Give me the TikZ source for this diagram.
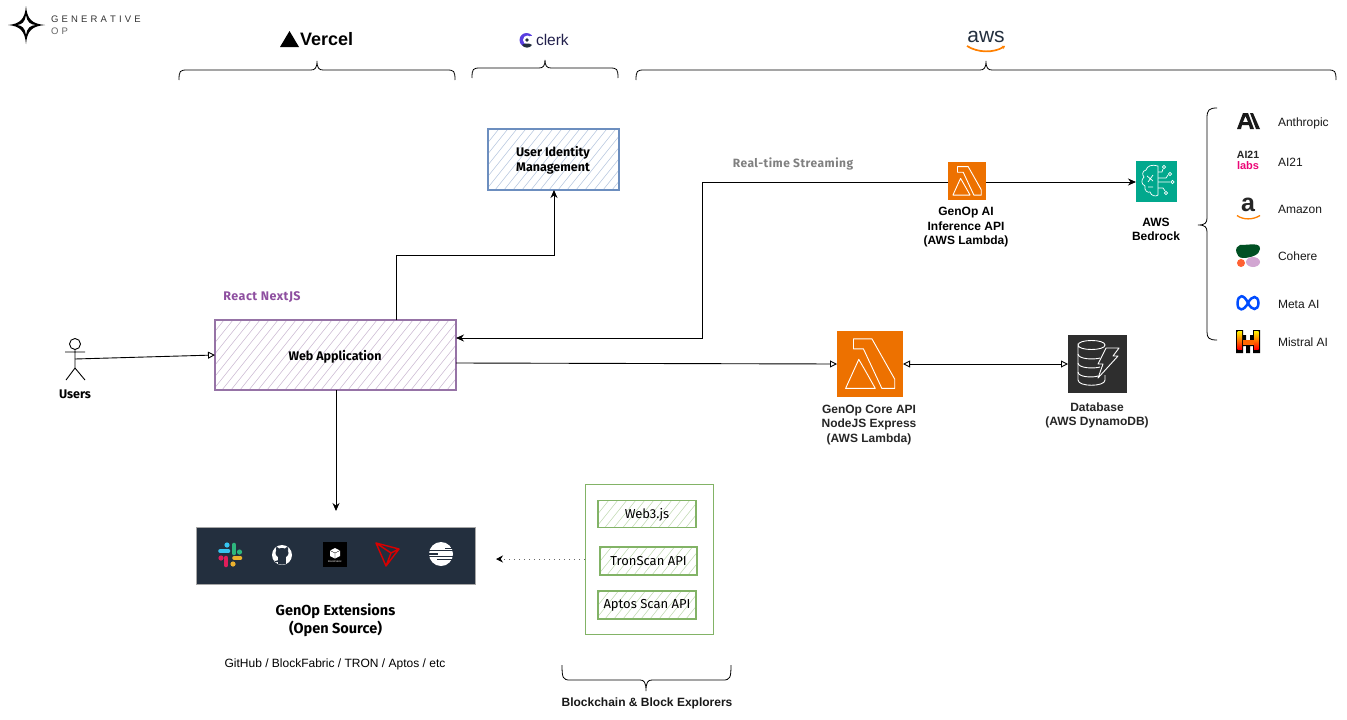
\documentclass[tikz,border=0pt]{standalone}
\usepackage{fontspec}
\setmainfont{Liberation Sans}
\newfontfamily\handfont{Fira Sans}
\newfontfamily\handwide[LetterSpace=4]{Fira Sans}
\usetikzlibrary{arrows.meta,calc}
\definecolor{purp}{HTML}{9673A6}
\definecolor{purptxt}{HTML}{8E4FA0}
\definecolor{blu}{HTML}{6C8EBF}
\definecolor{grn}{HTML}{82B366}
\definecolor{awsorg}{HTML}{ED7100}
\definecolor{teal}{HTML}{01A88D}
\definecolor{ddb}{HTML}{2E2E2E}
\definecolor{navy}{HTML}{232F3E}
\definecolor{slb}{HTML}{36C5F0}
\definecolor{slg}{HTML}{2EB67D}
\definecolor{sly}{HTML}{ECB22E}
\definecolor{slp}{HTML}{E01E5A}
\definecolor{clerkc}{HTML}{5A3FE0}
\tikzset{
  x=1pt,y=-1pt,
  every node/.style={inner sep=0pt,outer sep=0pt},
  hatched/.style={draw=#1,line width=1.7pt,
    path picture={\foreach \i in {-200,-191,...,400}{
      \draw[#1!45,line width=.6pt] ($(path picture bounding box.south west)+(\i,0)$) -- ++(120,-150);}}},
  hand/.style={font=\handfont\bfseries\fontsize{12.5}{15.5}\selectfont,align=center,text=black},
  handlite/.style={font=\handfont\fontsize{13}{15}\selectfont,align=center,text=black},
  helv/.style={font=\bfseries\fontsize{12}{14.5}\selectfont,align=center,text=black},
  prov/.style={font=\fontsize{12}{14}\selectfont,anchor=west,text=black!90},
  conn/.style={draw=black,line width=.9pt,-{Stealth[length=8pt,width=7pt]}},
  openconn/.style={draw=black,line width=.9pt,-{Triangle[open,length=7pt,width=7pt]}},
  icon/.style={minimum width=#1,minimum height=#1},
  bracel/.style={draw=black,line width=.8pt},
}
\newcommand{\hbrace}[6]{% x1 x2 tip ybottom yline ytip
  \draw[bracel] (#1,#4) .. controls (#1,#5+1) and (#1+1,#5) .. (#1+8,#5) -- (#3-6,#5) .. controls (#3-2,#5) and (#3,#5-2) .. (#3,#6)
   .. controls (#3,#5-2) and (#3+2,#5) .. (#3+6,#5) -- (#2-8,#5) .. controls (#2-1,#5) and (#2,#5+1) .. (#2,#4);}
\newcommand{\lambdashape}[3]{% cx cy size
  \begin{scope}[shift={(#1-#3/2,#2-#3/2)},x=#3 pt,y=-#3 pt,draw=white,line width=.9pt,line join=round]
    \draw (.25,.12)--(.53,.12)--(.875,.73)--(.875,.87)--(.68,.87)--(.40,.27)--(.25,.27)--cycle;
    \draw (.33,.43)--(.13,.87)--(.58,.87)--(.44,.62)--cycle;
  \end{scope}}
\begin{document}
\begin{tikzpicture}
\useasboundingbox (0,0) rectangle (1347,720);
\fill[white] (0,0) rectangle (1347,720);

% logo
\fill[black,even odd rule] (26,6) .. controls (27,19) and (32,24) .. (45,25) .. controls (32,26) and (27,31) .. (26,44) .. controls (25,31) and (20,26) .. (8,25) .. controls (20,24) and (25,19) .. (26,6) --
 (26,15) .. controls (25,22) and (22,24.5) .. (17,25) .. controls (22,25.5) and (25,28) .. (26,35) .. controls (27,28) and (30,25.5) .. (36,25) .. controls (30,24.5) and (27,22) .. (26,15) -- cycle;
\node[font=\fontsize{9.5}{11}\selectfont,text=black!80,anchor=west] (gen) at (51,19) {G\,\,E\,\,N\,\,E\,\,R\,\,A\,\,T\,\,I\,\,V\,\,E};
\node[font=\fontsize{9.5}{11}\selectfont,text=black!60,anchor=west] (op) at (51,31) {O\,\,P};

% brand headers
\fill[black] (280,47) -- (289.5,31) -- (299,47) -- cycle;
\node[font=\bfseries\fontsize{18}{20}\selectfont,anchor=west] (vercel) at (300,39) {Vercel};
\fill[clerkc] (526.5,40) circle (7);
\fill[white] (527.5,40) circle (4.5);
\fill[white] (530,35.5) rectangle (535,44.5);
\fill[navy] (527,40) circle (1.8);
\fill[navy] (522,45) .. controls (524,43) and (530,43) .. (532,45) .. controls (530,48.5) and (524,48.5) .. (522,45) -- cycle;
\node[font=\fontsize{15.5}{18}\selectfont,text=navy!60!clerkc!60!black,anchor=west] (clerk) at (536,40) {clerk};
\node[font=\fontsize{21}{24}\selectfont,text=navy] (aws) at (986,37) {aws};
\draw[orange,line width=1.7pt,-{Stealth[length=3pt,width=4pt]}] (967,46) .. controls (978,53) and (994,53) .. (1005,46);

% braces
\hbrace{179}{455}{317}{80}{70}{61}
\hbrace{472}{618}{545}{78}{68}{60}
\hbrace{636}{1336}{986}{80}{70}{61}
\draw[bracel] (1217,108) .. controls (1209,108) and (1207,110) .. (1207,118) -- (1207,218) .. controls (1207,223) and (1205,225) .. (1198,225) .. controls (1205,225) and (1207,227) .. (1207,232) -- (1207,332) .. controls (1207,338) and (1209,340) .. (1217,340);
\draw[bracel] (562,665) .. controls (562,678) and (563,680) .. (570,680) -- (640,680) .. controls (644,680) and (646,682) .. (646,691) .. controls (646,682) and (648,680) .. (652,680) -- (723,680) .. controls (730,680) and (731,678) .. (731,665);

% main boxes
\node[hatched=blu,minimum width=131pt,minimum height=61pt] (idm) at (553.5,159.5) {};
\node[hand] (idmt) at (553,160.5) {User Identity\\Management};
\node[hatched=purp,minimum width=241pt,minimum height=70pt] (web) at (335.5,355) {};
\node[hand] (webt) at (335,357) {Web Application};
\node[font=\handwide\bfseries\fontsize{12.5}{14}\selectfont,text=purptxt] (react) at (262,297) {React NextJS};

% user
\coordinate (uhead) at (75,344);
\draw[black,line width=.9pt] (uhead) circle (5.5);
\draw[black,line width=.9pt] (75,350) -- (75,368) -- (66,380) (75,368) -- (85,380) (65,352) -- (85,352);
\coordinate (ubody) at (75,359);
\node[hand] (users) at (75,394.5) {Users};

% icons
\node[fill=awsorg,icon=38pt] (ailam) at (967,181) {};
\lambdashape{967}{181}{38}
\node[fill=teal,icon=41pt] (bed) at (1156.5,181) {};
\begin{scope}[draw=white,line width=.7pt]
  \draw (1158,166) .. controls (1152,164) and (1147,166) .. (1146,170) .. controls (1142,171) and (1142,175) .. (1144,177) .. controls (1141,180) and (1141,184) .. (1145,186) .. controls (1144,191) and (1148,193) .. (1150,192) .. controls (1151,196) and (1156,197) .. (1158,195) -- cycle;
  \draw (1158,172) -- (1162,172) -- (1163,169) (1158,178) -- (1166,178) -- (1168,175) (1158,182) -- (1170,182) (1158,188) -- (1163,188) -- (1165,191);
  \draw (1147,176) -- (1153,181) (1153,175) -- (1148,182) (1148,187) -- (1153,187);
  \draw (1164,167) circle (1.7) (1170,174) circle (1.7) (1172.5,182) circle (1.7) (1166,193) circle (1.7);
\end{scope}
\node[fill=awsorg,icon=66pt] (core) at (870,364) {};
\lambdashape{870}{364}{66}
\node[fill=ddb,minimum width=59pt,minimum height=58pt] (db) at (1097.5,364) {};
\begin{scope}[draw=white,line width=.9pt]
  \draw (1078,345) .. controls (1078,339) and (1105,339) .. (1105,345) .. controls (1105,351) and (1078,351) .. (1078,345) -- (1078,380) .. controls (1078,387) and (1105,387) .. (1105,380) -- (1105,375);
  \draw (1078,354) .. controls (1078,359) and (1093,360) .. (1100,358);
  \draw (1078,363) .. controls (1078,368) and (1093,369) .. (1100,367);
  \draw (1078,372) .. controls (1078,377) and (1092,378) .. (1098,376);
  \draw[fill=ddb,line join=round] (1106,348) -- (1119,348) -- (1113,356) -- (1118,356) -- (1098,378) -- (1103,364) -- (1098,364) -- cycle;
\end{scope}

% connectors
\coordinate (extin) at (336,511);
\draw[openconn] (ubody) -- (web.west);
\draw[conn] (web.north -| 396,0) -- (396,255) -- (554,255) -- (idm.south -| 554,0);
\draw[conn] (ailam.west |- 0,182) -- (702,182) -- (702,338) -- (web.east |- 0,338);
\draw[conn] (ailam.east |- 0,182) -- (bed.west |- 0,182);
\draw[openconn] (web.east |- 0,363) -- (core.west |- 0,364);
\draw[draw=black,line width=.9pt,{Triangle[open,length=7pt,width=7pt]}-{Triangle[open,length=7pt,width=7pt]}] (core.east) -- (db.west);
\draw[conn] (web.south -| extin) -- (extin);

% labels
\node[font=\handwide\bfseries\fontsize{12}{14}\selectfont,text=black!50] (rts) at (793,163.5) {Real-time Streaming};
\node[helv] (ailab) at (966,227.5) {GenOp AI\\Inference API\\(AWS Lambda)};
\node[helv] (bedlab) at (1156,229.5) {AWS\\Bedrock};
\node[helv,text=black!85] (corelab) at (869,425) {GenOp Core API\\NodeJS Express\\(AWS Lambda)};
\node[helv,text=black!85] (dblab) at (1097,415.5) {Database\\(AWS DynamoDB)};

% providers
\fill[black!90,even odd rule] (1237,129) -- (1243,113) -- (1248,113) -- (1254,129) -- (1250,129) -- (1249,125) -- (1242,125) -- (1241,129) -- cycle (1243,122) -- (1248,122) -- (1245.5,116) -- cycle;
\fill[black!90] (1250,113) -- (1253,113) -- (1260,129) -- (1256,129) -- cycle;
\node[font=\bfseries\fontsize{10.5}{10}\selectfont,text=black!85] (ai21a) at (1248,154.5) {AI21};
\node[font=\bfseries\fontsize{11}{10}\selectfont,text=magenta!80!red] (ai21b) at (1248,165.5) {labs};
\node[font=\bfseries\fontsize{25}{26}\selectfont,text=black!85] (ama) at (1248,204.5) {a};
\draw[orange,line width=1.3pt] (1237,215.5) .. controls (1243,220) and (1253,220) .. (1260,215.5);
\fill[green!20!black!75!teal] (1240,245) .. controls (1250,245) and (1260,242) .. (1260,249) .. controls (1260,255) and (1250,258) .. (1243,258) .. controls (1235,258) and (1234,246) .. (1240,245) -- cycle;
\fill[red!55!orange!80] (1241,263) circle (4);
\fill[violet!35] (1253,262) ellipse (7 and 5);
\draw[blue!70!cyan,line width=2.5pt] (1248,303) .. controls (1244,294) and (1238,294) .. (1237.5,303) .. controls (1237.5,312) and (1244,311) .. (1248,303) .. controls (1252,295) and (1258,295) .. (1258.5,303) .. controls (1258,311) and (1252,311) .. (1248,303);
% Mistral M
\fill[black] (1236,330) -- (1243,330) -- (1243,335) -- (1246,335) -- (1246,340) -- (1250,340) -- (1250,335) -- (1253,335) -- (1253,330) -- (1260,330) -- (1260,353) -- (1253,353) -- (1253,346) -- (1250,346) -- (1250,353) -- (1246,353) -- (1246,346) -- (1243,346) -- (1243,353) -- (1236,353) -- cycle;
\shade[top color=yellow!90!orange,bottom color=red] (1237.5,331) rectangle (1242,349);
\shade[top color=yellow!90!orange,bottom color=red] (1254,331) rectangle (1258.5,349);
\fill[orange!80!red] (1243,340) rectangle (1254,345);
\node[prov] (p1) at (1278,123.5) {Anthropic};
\node[prov] (p2) at (1278,162) {AI21};
\node[prov] (p3) at (1278,209.5) {Amazon};
\node[prov] (p4) at (1278,256.5) {Cohere};
\node[prov] (p5) at (1278,304.5) {Meta AI};
\node[prov] (p6) at (1278,342.5) {Mistral AI};

% extensions bar
\node[fill=navy,draw=black!35,line width=.8pt,minimum width=279pt,minimum height=57pt] (ext) at (335.5,555.5) {};
\begin{scope}[line width=4.6pt,line cap=round]
  \draw[slb] (220.5,551) -- (228,551); \fill[slb] (227,545) circle (2.6);
  \draw[slg] (234,545) -- (234,553); \fill[slg] (239.5,552) circle (2.6);
  \draw[sly] (234.5,558) -- (240,558); \fill[sly] (233,564) circle (2.6);
  \draw[slp] (226,558) -- (226,565); \fill[slp] (221,558) circle (2.6);
\end{scope}
\fill[white] (282,555) circle (10);
\begin{scope}
  \clip (282,555) circle (9.6);
  \fill[navy] (282,553) ellipse (6.5 and 5);
  \fill[navy] (276,546) -- (279.5,549) -- (276,551) -- cycle (288,546) -- (284.5,549) -- (288,551) -- cycle;
  \fill[navy] (278,556) rectangle (286,566);
  \draw[navy,line width=1.4pt] (272,559) .. controls (274,562) and (276,563) .. (278,561);
\end{scope}
\node[fill=black,minimum width=24pt,minimum height=25pt] (blk) at (335,554.5) {};
\fill[white] (335,548) -- (340,550.5) -- (340,556) -- (335,558.5) -- (330,556) -- (330,550.5) -- cycle;
\draw[black,line width=.3pt] (330,550.5) -- (335,553) -- (340,550.5) (335,553) -- (335,558.5);
\node[font=\fontsize{2.6}{3}\selectfont,text=white] (blkt) at (335,561.5) {BlockFabric};
\draw[red!85!black,line width=1.4pt,line join=round] (376,543) -- (399,549) -- (386,566) -- cycle (376,543) -- (391,553) -- (386,566) (391,553) -- (399,549);
\fill[white] (441,554) circle (12);
\foreach \yy/\a/\b in {547.5/445/454,553/429/438,558.5/437/454}{\fill[navy] (\a,\yy) rectangle (\b,\yy+1.6);}
\fill[navy] (429,549.5) rectangle (453,551);
\fill[navy] (429,556) rectangle (453,557.4);

\node[hand,font=\handfont\bfseries\fontsize{14.5}{18}\selectfont] (extl) at (335.5,620) {GenOp Extensions\\(Open Source)};
\node[font=\fontsize{12}{14}\selectfont] (extsub) at (335,664.5) {GitHub / BlockFabric / TRON / Aptos / etc};

% blockchain group
\node[draw=grn,line width=.9pt,fill=white,minimum width=128pt,minimum height=150pt] (chain) at (649,559) {};
\node[hatched=grn,minimum width=98pt,minimum height=27pt,line width=1.2pt] (w3) at (647,514) {};
\node[handlite] (w3t) at (647,515) {Web3.js};
\node[hatched=grn,minimum width=97pt,minimum height=28pt,line width=1.2pt] (tron) at (648.5,561) {};
\node[handlite] (tront) at (648.5,561.5) {TronScan API};
\node[hatched=grn,minimum width=98pt,minimum height=28pt,line width=1.2pt] (apt) at (647,605) {};
\node[handlite] (aptt) at (647,605.5) {Aptos Scan API};
\coordinate (extdot) at (496,559);
\draw[draw=black!60,line width=.9pt,dash pattern=on 1.5pt off 3.5pt,-{Stealth[length=7pt,width=7pt,color=black]}] (chain.west |- extdot) -- (extdot);
\node[font=\bfseries\fontsize{12}{14}\selectfont,text=black!90] (bbe) at (647,703.5) {Blockchain \& Block Explorers};
\end{tikzpicture}
\end{document}
